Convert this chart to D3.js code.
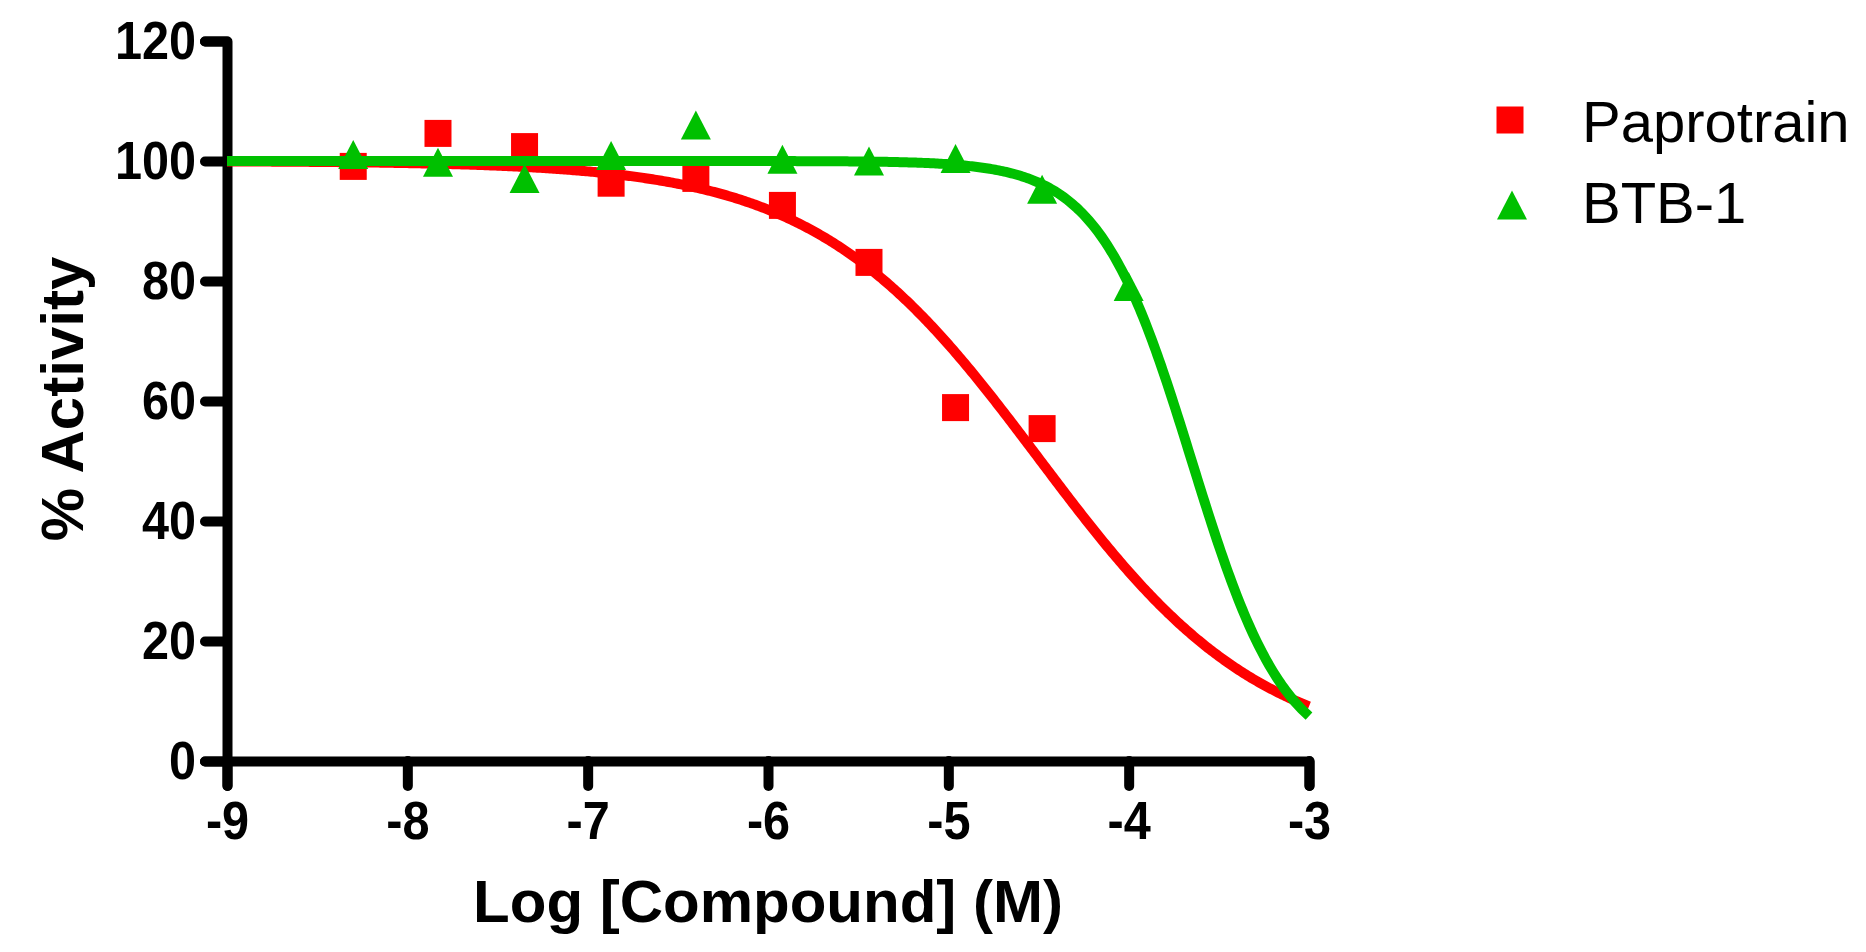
<!DOCTYPE html>
<html>
<head>
<meta charset="utf-8">
<script src="https://cdn.jsdelivr.net/npm/d3@7"></script>
<style>
  html, body { margin: 0; padding: 0; background: #fff; }
  svg text { font-family: "Liberation Sans", Arial, sans-serif; }
</style>
</head>
<body>
<div id="chart-container"></div>
<script>
// Log concentrations (M), 3-fold dilutions
const logConc = [-8.30, -7.83, -7.35, -6.87, -6.40, -5.92, -5.44, -4.96, -4.48, -4.00];

// % activity
const paprotrainValues = [99.1, 104.6, 102.4, 96.3, 97.1, 92.6, 83.1, 58.9, 55.4];
const btb1Values = [101.1, 99.8, 97.1, 100.9, 106.0, 100.3, 100.0, 100.4, 95.3, 79.1];

// fitted sigmoid parameters: [bottom, top, logIC50, hill]
const paprotrainFit = [1, 100, -4.5, 0.7];
const btb1Fit = [0, 100, -3.65, 1.68];

const seriesNames = ["Paprotrain", "BTB-1"];
const xTicks = [-9, -8, -7, -6, -5, -4, -3];
const yTicks = [0, 20, 40, 60, 80, 100, 120];

const margin = { top: 41, right: 557, bottom: 191, left: 227 };
const width = 1866 - margin.left - margin.right;
const height = 952 - margin.top - margin.bottom;

const red = "#ff0000";
const green = "#00c000";
const squeeze = 0.9; // tick labels are a bit narrow in the original

const x = d3.scaleLinear().domain([-9, -3]).range([0, width]);
const y = d3.scaleLinear().domain([0, 120]).range([height, 0]);

const root = d3.select("#chart-container")
    .append("svg")
    .attr("width", 1866)
    .attr("height", 952);

const svg = root.append("g")
    .attr("transform", `translate(${margin.left},${margin.top})`);

// axes
const yAxis = svg.append("g")
    .call(d3.axisLeft(y).tickValues(yTicks).tickSize(22).tickSizeOuter(22).tickPadding(9));

const xAxis = svg.append("g")
    .attr("transform", `translate(0,${height})`)
    .call(d3.axisBottom(x).tickValues(xTicks).tickSize(25).tickSizeOuter(25).tickPadding(15)
        .tickFormat(d => String(d)));

[yAxis, xAxis].forEach(ax => {
    ax.select(".domain")
        .attr("stroke", "#000")
        .attr("stroke-width", 10)
        .attr("stroke-linecap", "round")
        .attr("stroke-linejoin", "round");
    ax.selectAll(".tick line")
        .attr("stroke", "#000")
        .attr("stroke-width", 10)
        .attr("stroke-linecap", "round");
    ax.selectAll(".tick text")
        .attr("fill", "#000")
        .style("font-size", "54px")
        .style("font-weight", "bold")
        .attr("x", function () { return (+d3.select(this).attr("x") || 0) / squeeze; })
        .attr("transform", `scale(${squeeze},1)`);
});

// fitted curves
function sigmoid(p) {
    return v => p[0] + (p[1] - p[0]) / (1 + Math.pow(10, (v - p[2]) * p[3]));
}

const curveX = d3.range(-9, -3.0001, 0.01).concat([-3]);
const line = d3.line()
    .x(d => x(d[0]))
    .y(d => y(d[1]));

function drawCurve(fit, color) {
    const f = sigmoid(fit);
    svg.append("path")
        .datum(curveX.map(v => [v, f(v)]))
        .attr("fill", "none")
        .attr("stroke", color)
        .attr("stroke-width", 10)
        .attr("d", line);
}

const sq = 27;
const triW = 30, triH = 29;
const triPath = `M0,${-triH / 2}L${triW / 2},${triH / 2}L${-triW / 2},${triH / 2}Z`;

// Paprotrain
drawCurve(paprotrainFit, red);
svg.selectAll(".sq")
    .data(paprotrainValues)
    .enter().append("rect")
    .attr("class", "sq")
    .attr("x", (d, i) => x(logConc[i]) - sq / 2)
    .attr("y", d => y(d) - sq / 2)
    .attr("width", sq)
    .attr("height", sq)
    .attr("fill", red);

// BTB-1
drawCurve(btb1Fit, green);
svg.selectAll(".tri")
    .data(btb1Values)
    .enter().append("path")
    .attr("class", "tri")
    .attr("transform", (d, i) => `translate(${x(logConc[i])},${y(d)})`)
    .attr("d", triPath)
    .attr("fill", green);

// axis titles
root.append("text")
    .attr("transform", `translate(83,${margin.top + height / 2 - 2}) rotate(-90)`)
    .attr("text-anchor", "middle")
    .style("font-size", "60px")
    .style("font-weight", "bold")
    .text("% Activity");

root.append("text")
    .attr("x", margin.left + width / 2)
    .attr("y", 922)
    .attr("text-anchor", "middle")
    .style("font-size", "60px")
    .style("font-weight", "bold")
    .text("Log [Compound] (M)");

// legend
const legend = root.append("g");
legend.append("rect")
    .attr("x", 1510 - sq / 2).attr("y", 120 - sq / 2)
    .attr("width", sq).attr("height", sq)
    .attr("fill", red);
legend.append("path")
    .attr("transform", "translate(1512,205)")
    .attr("d", triPath)
    .attr("fill", green);
legend.selectAll(".lt")
    .data(seriesNames)
    .enter().append("text")
    .attr("x", 1582)
    .attr("y", (d, i) => [142, 223][i])
    .style("font-size", "58px")
    .text(d => d);
</script>
</body>
</html>
